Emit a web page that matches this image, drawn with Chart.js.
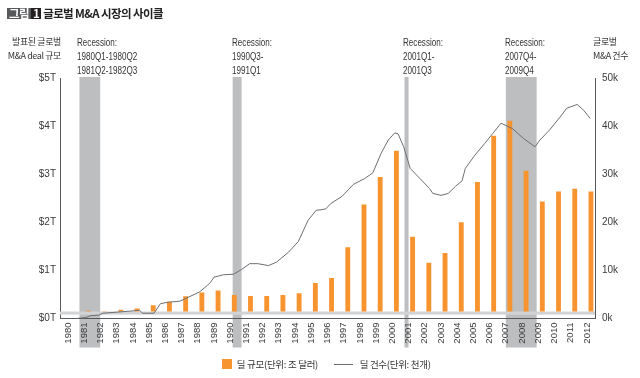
<!DOCTYPE html>
<html>
<head>
<meta charset="utf-8">
<script src="https://cdn.jsdelivr.net/npm/chart.js@4"></script>
<style>
  body { margin: 0; background: #fff; }
  #wrap { position: relative; width: 640px; height: 378px; overflow: hidden;
          font-family: "Liberation Sans", "Noto Sans CJK KR", sans-serif; color: #333; }
  #wrap canvas { position: absolute; left: 0; top: 0; }
  .txt { position: absolute; font-size: 10.5px; line-height: 14px; white-space: nowrap;
         transform: scaleX(0.77); transform-origin: left top; }
  .ko { position: absolute; font-family: "Noto Sans CJK KR", sans-serif; font-size: 9px;
        line-height: 14px; letter-spacing: -0.4px; white-space: nowrap; }
  #title { position: absolute; left: 7px; top: 5px; font-family: "Noto Sans CJK KR", sans-serif;
           font-weight: bold; font-size: 11.5px; letter-spacing: -0.6px; color: #222; white-space: nowrap; }
  #title .tag { display: inline-block; background: #58595b; color: #fff; padding: 0 2px; line-height: 11px; }
  #title .num { display: inline-block; background: #231f20; color: #fff; padding: 0 2px; line-height: 11px; margin-right: 2px; }
  #legend { position: absolute; top: 356px; left: 222px; font-family: "Noto Sans CJK KR", sans-serif;
            font-size: 9.5px; letter-spacing: -0.3px; white-space: nowrap; color: #333; }
  #legend span { display: inline-block; vertical-align: middle; }
</style>
</head>
<body>
<div id="wrap">
  <canvas id="myChart" width="640" height="378"></canvas>
  <div id="title"><span class="tag">그림</span><span class="num">1</span>글로벌 M&amp;A 시장의 사이클</div>
  <div class="ko" style="right:579px; top:35px; text-align:right;">발표된 글로벌<br>M&amp;A deal 규모</div>
  <div class="txt" style="left:77px; top:35px;">Recession:<br>1980Q1-1980Q2<br>1981Q2-1982Q3</div>
  <div class="txt" style="left:232px; top:35px;">Recession:<br>1990Q3-<br>1991Q1</div>
  <div class="txt" style="left:403px; top:35px;">Recession:<br>2001Q1-<br>2001Q3</div>
  <div class="txt" style="left:505px; top:35px;">Recession:<br>2007Q4-<br>2009Q4</div>
  <div class="ko" style="left:593px; top:35px;">글로벌<br>M&amp;A 건수</div>
  <div id="legend">
    <span style="width:10px;height:10px;background:#f7942f;"></span>
    <span style="margin-left:3px;">딜 규모(단위: 조 달러)</span>
    <span style="width:19px;height:1px;background:#6d6e71;margin-left:14px;"></span>
    <span style="margin-left:5px;">딜 건수(단위: 천개)</span>
  </div>
</div>
<script>
// years on the category axis
const YEARS = [];
for (let y = 1980; y <= 2012; y++) YEARS.push(String(y));

// deal value, trillion USD (1980 has no visible bar)
const DEAL_VALUE = [
  null, 0.16, 0.14, 0.18, 0.21, 0.275, 0.35, 0.46, 0.54, 0.58,
  0.49, 0.47, 0.47, 0.49, 0.525, 0.74, 0.84, 1.48, 2.37, 2.94,
  3.49, 1.70, 1.16, 1.36, 2.00, 2.84, 3.80, 4.11, 3.07, 2.43,
  2.64, 2.70, 2.64
];

// deal count, thousands (fractional years)
const COUNT_YEARS = [
  1980.5, 1981.1, 1981.4, 1981.9, 1982.15, 1983.7, 1984.4, 1984.6, 1985.3, 1985.7,
  1986.2, 1986.9, 1987.4, 1988.1, 1988.6, 1988.8, 1989.0, 1989.6, 1990.2, 1990.7,
  1991.2, 1991.7, 1992.35, 1992.85, 1993.6, 1994.2, 1994.8, 1995.3, 1995.6, 1995.9,
  1996.2, 1996.9, 1997.6, 1998.3, 1998.8, 1999.3, 1999.75, 2000.15, 2000.35, 2000.7,
  2001.1, 2001.7, 2002.3, 2002.5, 2003.0, 2003.45, 2003.9, 2004.3, 2004.5, 2005.1,
  2005.7, 2006.2, 2006.7, 2007.4, 2008.1, 2008.8, 2009.1, 2009.7, 2010.35, 2010.75,
  2011.4, 2011.8, 2012.2
];
const DEAL_COUNT = [
  0, 0.2, 0.6, 0.7, 1.1, 1.5, 1.7, 1.1, 1.1, 3.1,
  3.4, 3.6, 4.4, 5.5, 6.9, 7.6, 8.6, 9.1, 9.2, 10.2,
  11.4, 11.4, 11.0, 11.7, 13.8, 16.0, 20.4, 22.5, 22.6, 22.8,
  23.9, 25.4, 27.9, 29.1, 30.3, 34.3, 37.1, 38.6, 38.4, 35.7,
  31.2, 29.1, 27.0, 26.0, 25.6, 26.0, 27.5, 28.6, 31.2, 34.0,
  36.4, 38.5, 40.6, 39.5, 37.4, 35.7, 37.1, 39.2, 41.9, 43.7,
  44.5, 43.3, 41.6
];

// recession shading, start/end in fractional years as drawn
const RECESSION_START = [1980.7, 1990.15, 2000.75, 2007.0];
const RECESSION_END   = [1981.98, 1990.7, 2001.0, 2008.9];

// zero line band (in trillions)
const BASE_LOW = 0.08;
const BASE_HIGH = 0.145;

Chart.defaults.font.family = '"Liberation Sans", Arial, sans-serif';
Chart.defaults.color = '#3a3a3a';

/** recessionBands: grey columns behind everything, reaching into the year labels */
const recessionBands = {
  id: 'recessionBands',
  beforeDraw(chart) {
    const ctx = chart.ctx;
    const xl = chart.scales.xl;
    const area = chart.chartArea;
    ctx.save();
    ctx.fillStyle = '#bcbec0';
    for (let i = 0; i < RECESSION_START.length; i++) {
      const x0 = xl.getPixelForValue(RECESSION_START[i]);
      const x1 = xl.getPixelForValue(RECESSION_END[i]);
      ctx.fillRect(x0, area.top - 1, x1 - x0, area.bottom - area.top + 30);
    }
    ctx.restore();
  },
  beforeDatasetsDraw(chart) {
    const ctx = chart.ctx;
    const y = chart.scales.y;
    const area = chart.chartArea;
    const top = y.getPixelForValue(BASE_HIGH);
    const bot = y.getPixelForValue(BASE_LOW);
    ctx.save();
    ctx.fillStyle = '#d1d3d4';
    ctx.fillRect(area.left, top, area.right - area.left, bot - top);
    ctx.restore();
  }
};

const myChart = new Chart(document.getElementById('myChart'), {
  type: 'bar',
  data: {
    labels: YEARS,
    datasets: [
      {
        type: 'line',
        label: '딜 건수(단위: 천개)',
        data: COUNT_YEARS.map((x, i) => ({ x: x, y: DEAL_COUNT[i] })),
        xAxisID: 'xl',
        yAxisID: 'yr',
        borderColor: '#6d6e71',
        borderWidth: 1,
        pointRadius: 0,
        tension: 0,
        order: 0
      },
      {
        type: 'bar',
        label: '딜 규모(단위: 조 달러)',
        data: DEAL_VALUE,
        xAxisID: 'x',
        yAxisID: 'y',
        base: BASE_HIGH,
        backgroundColor: '#f7942f',
        borderWidth: 0,
        barPercentage: 0.6,
        categoryPercentage: 1,
        order: 1
      }
    ]
  },
  options: {
    responsive: false,
    animation: false,
    devicePixelRatio: 1,
    layout: { padding: { top: 78, left: 0, right: 0, bottom: 0 } },
    plugins: {
      legend: { display: false },
      tooltip: { enabled: false }
    },
    scales: {
      x: {
        type: 'category',
        offset: true,
        grid: { display: false, drawTicks: false },
        border: { display: true, color: '#58595b', width: 1 },
        ticks: { minRotation: 90, maxRotation: 90, autoSkip: false, padding: 4, font: { size: 9.5 } },
        afterFit(scale) { scale.height = 59.5; }
      },
      // invisible year axis for the count curve and the recession bands
      xl: {
        type: 'linear',
        position: 'top',
        offset: false,
        min: 1979.5,
        max: 2012.5,
        grid: { display: false, drawTicks: false, offset: false },
        border: { display: false },
        ticks: { display: false },
        afterFit(scale) { scale.height = 0; }
      },
      y: {
        position: 'left',
        min: 0,
        max: 5,
        grid: { display: false, drawTicks: false },
        border: { display: true, color: '#58595b', width: 1 },
        ticks: { stepSize: 1, padding: 4, font: { size: 10 }, callback: v => '$' + v + 'T' },
        afterFit(scale) { scale.width = 60; }
      },
      yr: {
        position: 'right',
        min: 0,
        max: 50,
        grid: { display: false, drawTicks: false },
        border: { display: true, color: '#58595b', width: 1 },
        ticks: { stepSize: 10, padding: 7, font: { size: 10 }, callback: v => v + 'k' },
        afterFit(scale) { scale.width = 45; }
      }
    }
  },
  plugins: [recessionBands]
});
</script>
</body>
</html>
